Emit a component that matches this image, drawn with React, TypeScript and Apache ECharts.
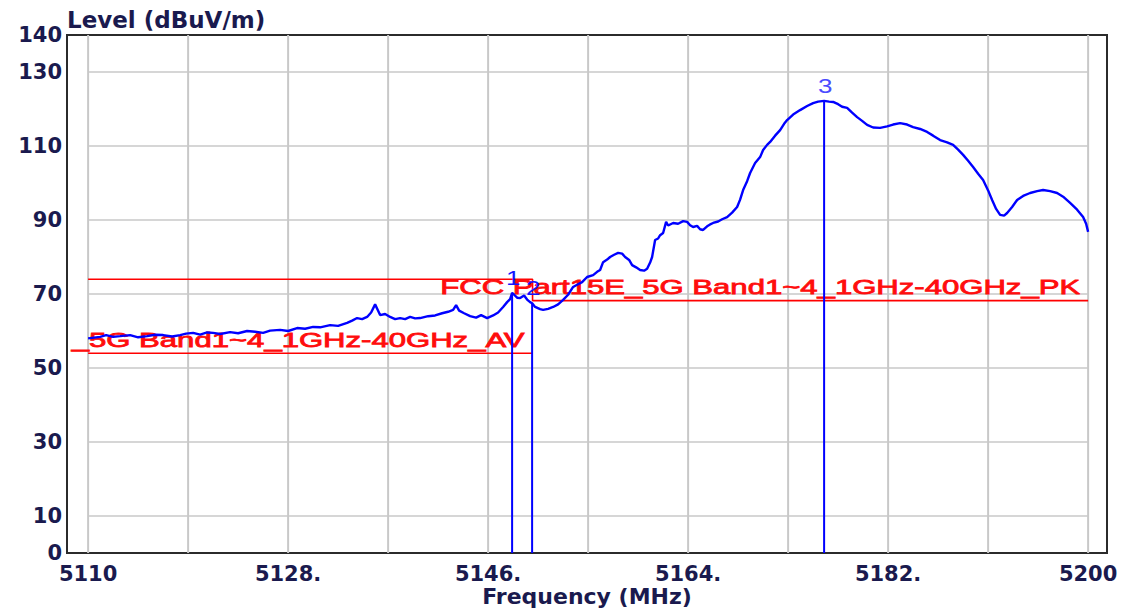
import React, { useEffect, useRef } from "react";
import * as echarts from "echarts";

// ---- Data ----
const xTickValues = [5110, 5128, 5146, 5164, 5182, 5200];
const xTickLabels = ["5110", "5128.", "5146.", "5164.", "5182.", "5200"];
const yTickValues = [0, 10, 30, 50, 70, 90, 110, 130, 140];
const gridFreqs = [5110, 5119, 5128, 5137, 5146, 5155, 5164, 5173, 5182, 5191, 5200];
const gridLevels = [10, 30, 50, 70, 90, 110, 130];

const traceFreq = [
  5110.0, 5111.08, 5111.62, 5112.25, 5112.88, 5113.78, 5114.5, 5115.31, 5116.03, 5116.75,
  5117.56, 5118.28, 5118.82, 5119.45, 5120.08, 5120.71, 5121.25, 5121.88, 5122.78, 5123.5,
  5124.31, 5125.03, 5125.75, 5126.38, 5127.28, 5128.0, 5128.81, 5129.53, 5130.25, 5130.88,
  5131.78, 5132.5, 5133.31, 5133.76, 5134.21, 5134.66, 5135.11, 5135.47, 5135.83, 5136.1,
  5136.28, 5136.73, 5137.18, 5137.63, 5138.08, 5138.53, 5138.98, 5139.43, 5139.88, 5140.6,
  5141.23, 5141.86, 5142.4, 5142.85, 5143.12, 5143.39, 5143.84, 5144.38, 5144.92, 5145.37,
  5145.91, 5146.45, 5146.9, 5147.35, 5147.71, 5147.98, 5148.16, 5148.34, 5148.61, 5148.88,
  5149.24, 5149.51, 5149.78, 5149.96, 5150.23, 5150.68, 5150.95, 5151.4, 5151.85, 5152.3,
  5152.75, 5153.2, 5153.65, 5154.01, 5154.46, 5154.91, 5155.45, 5155.81, 5156.08, 5156.35,
  5156.71, 5156.98, 5157.34, 5157.7, 5158.06, 5158.33, 5158.69, 5158.96, 5159.32, 5159.68,
  5160.04, 5160.31, 5160.58, 5160.76, 5161.03, 5161.3, 5161.48, 5161.75, 5162.02, 5162.2,
  5162.65, 5163.1, 5163.55, 5163.91, 5164.18, 5164.45, 5164.81, 5165.08, 5165.35, 5165.71,
  5165.98, 5166.25, 5166.7, 5167.06, 5167.51, 5167.96, 5168.41, 5168.68, 5168.95, 5169.31,
  5169.58, 5170.03, 5170.48, 5170.75, 5171.11, 5171.38, 5171.83, 5172.28, 5172.64, 5172.91,
  5173.45, 5174.08, 5174.71, 5175.25, 5175.7, 5176.24, 5176.69, 5177.05, 5177.5, 5177.86,
  5178.31, 5178.76, 5179.21, 5179.66, 5180.11, 5180.65, 5181.28, 5181.91, 5182.45, 5183.08,
  5183.71, 5184.25, 5184.88, 5185.51, 5186.05, 5186.68, 5187.31, 5187.85, 5188.3, 5188.75,
  5189.2, 5189.65, 5190.1, 5190.55, 5191.0, 5191.36, 5191.72, 5192.08, 5192.44, 5192.71,
  5193.16, 5193.61, 5194.15, 5194.78, 5195.41, 5195.95, 5196.58, 5197.21, 5197.75, 5198.38,
  5199.01, 5199.55, 5199.82, 5200.0,
];
const traceLevel = [
  58.0, 58.4, 58.9, 58.4, 58.6, 58.9, 58.3, 58.6, 59.0, 58.9,
  58.5, 58.9, 59.3, 59.5, 59.0, 59.6, 59.5, 59.2, 59.7, 59.4,
  60.0, 59.8, 59.5, 60.1, 60.3, 60.0, 60.8, 60.6, 61.1, 61.0,
  61.6, 61.4, 62.2, 62.8, 63.5, 63.2, 63.8, 65.0, 67.2, 65.5,
  64.3, 64.6, 63.8, 63.2, 63.5, 63.2, 63.8, 63.4, 63.5, 64.0,
  64.2, 64.8, 65.2, 65.7, 67.0, 65.5, 64.8, 64.0, 63.6, 64.3,
  63.5, 64.2, 65.0, 66.5, 67.8, 68.6, 70.3, 69.8, 69.0, 68.9,
  69.6, 68.5, 67.8, 67.5, 66.5, 65.9, 65.7, 66.0, 66.5, 67.2,
  68.4, 69.8, 71.9, 72.5, 73.2, 74.6, 75.1, 76.0, 76.5, 78.6,
  79.3, 80.0, 80.6, 81.1, 80.9, 80.0, 79.2, 77.8, 77.2, 76.5,
  76.3, 76.8, 78.5, 80.0, 84.6, 85.0, 85.9, 86.5, 89.5, 88.5,
  89.2, 89.0, 89.7, 89.5, 88.6, 88.1, 88.4, 87.5, 87.3, 88.3,
  88.8, 89.2, 89.6, 90.2, 90.8, 92.0, 93.5, 95.5, 98.1, 100.5,
  102.7, 105.4, 107.0, 108.9, 110.3, 111.1, 112.8, 114.3, 116.0, 117.0,
  118.5, 119.7, 120.8, 121.6, 122.0, 122.2, 122.0, 121.9, 121.3, 120.6,
  120.3, 119.0, 117.8, 116.8, 115.7, 115.0, 114.9, 115.3, 115.8, 116.2,
  115.8, 115.1, 114.6, 113.8, 112.8, 111.6, 111.0, 110.3, 109.0, 107.6,
  106.0, 104.3, 102.5, 100.8, 98.0, 95.4, 93.0, 91.4, 91.2, 91.9,
  93.5, 95.4, 96.5, 97.3, 97.8, 98.1, 97.8, 97.3, 96.3, 94.6,
  92.8, 90.8, 89.0, 86.8,
];

// Limit lines (FCC Part15E)
const pkLimitFreq = [5110, 5150, 5150, 5200];
const pkLimitLevel = [74, 74, 68.2, 68.2];
const avLimitFreq = [5110, 5150];
const avLimitLevel = [54, 54];
// the AV label is shown in the reference only from "_5G ..." onward (its start is hidden by the frame)
const limitLabels = [
  "FCC Part15E_5G Band1~4_1GHz-40GHz_PK",
  "_5G Band1~4_1GHz-40GHz_AV",
];
const limitLabelFreq = [5200, 5150];
const limitLabelLevel = [68.2, 54];

// Markers
const markerFreq = [5148.16, 5149.96, 5176.24];
const markerLevel = [70.3, 67.5, 122.2];
const markerLabels = ["1", "2", "3"];

// ---- Styles ----
const TICK_COLOR = "#1a1a4e";
const GRID_COLOR = "#c8c8c8";
const RED = "#ff0000";
const BLUE = "#0000ff";

export default function App() {
  const ref = useRef<HTMLDivElement>(null);

  useEffect(() => {
    document.body.style.margin = "0";
    const chart = echarts.init(ref.current as HTMLDivElement, null, { renderer: "svg" });

    const gridLines: number[][] = [];
    gridFreqs.forEach((f) => gridLines.push([f, 0, f, 140]));
    gridLevels.forEach((l) => gridLines.push([5110, l, 5200, l]));

    const boldFont = {
      color: TICK_COLOR,
      fontFamily: "'DejaVu Sans', Verdana, sans-serif",
      fontWeight: "bold" as const,
      fontSize: 21,
    };

    const option: any = {
      animation: false,
      backgroundColor: "#ffffff",
      grid: {
        left: 67,
        right: 27,
        top: 35,
        bottom: 59,
        outerBoundsMode: "none",
        containLabel: false,
        show: true,
        borderColor: "#2b2b2b",
        borderWidth: 2,
        backgroundColor: "#ffffff",
      },
      xAxis: {
        type: "value",
        min: 5108.1,
        max: 5201.7,
        axisLine: { show: false },
        axisTick: { show: false },
        splitLine: { show: false },
        axisLabel: {
          ...boldFont,
          customValues: xTickValues,
          margin: 10,
          formatter: (v: number) => {
            const i = xTickValues.findIndex((t) => Math.abs(t - v) < 1e-6);
            return i >= 0 ? xTickLabels[i] : "";
          },
        },
        name: "Frequency (MHz)",
        nameLocation: "middle",
        nameGap: 32,
        nameMoveOverlap: false,
        nameTextStyle: { ...boldFont, fontSize: 22 },
      },
      yAxis: {
        type: "value",
        min: 0,
        max: 140,
        axisLine: { show: false },
        axisTick: { show: false },
        splitLine: { show: false },
        axisLabel: {
          ...boldFont,
          customValues: yTickValues,
          margin: 5,
        },
        name: "Level (dBuV/m)",
        nameLocation: "end",
        nameGap: 4,
        nameMoveOverlap: false,
        nameTextStyle: { ...boldFont, fontSize: 23, align: "left" },
      },
      series: [
        {
          type: "custom",
          z: 1,
          silent: true,
          encode: { x: [0, 2], y: [1, 3] },
          data: gridLines,
          renderItem: (params: any, api: any) => {
            const v = gridLines[params.dataIndex];
            const p1 = api.coord([v[0], v[1]]);
            const p2 = api.coord([v[2], v[3]]);
            const vertical = v[0] === v[2];
            return {
              type: "line",
              shape: { x1: p1[0], y1: p1[1], x2: p2[0], y2: p2[1] },
              style: { stroke: GRID_COLOR, lineWidth: vertical ? 2 : 1.4 },
            };
          },
        },
        {
          type: "line",
          z: 2,
          silent: true,
          symbol: "none",
          lineStyle: { color: RED, width: 1.6 },
          data: pkLimitFreq.map((f, i) => [f, pkLimitLevel[i]]),
        },
        {
          type: "line",
          z: 2,
          silent: true,
          symbol: "none",
          lineStyle: { color: RED, width: 1.6 },
          data: avLimitFreq.map((f, i) => [f, avLimitLevel[i]]),
        },
        {
          type: "custom",
          z: 3,
          silent: true,
          clip: false,
          data: limitLabelFreq.map((f, i) => [f, limitLabelLevel[i]]),
          renderItem: (params: any, api: any) => {
            const i = params.dataIndex;
            const p = api.coord([limitLabelFreq[i], limitLabelLevel[i]]);
            return {
              type: "text",
              x: p[0] - 8,
              y: p[1] - 3,
              scaleX: 1.48,
              style: {
                text: limitLabels[i],
                align: "right",
                verticalAlign: "bottom",
                fill: "#ff0d0d",
                stroke: "#ff0d0d",
                lineWidth: 0.8,
                fontSize: 21,
                fontFamily: "'Liberation Sans', Arial, sans-serif",
              },
            };
          },
        },
        {
          type: "line",
          z: 4,
          silent: true,
          symbol: "none",
          lineStyle: { color: BLUE, width: 2.4 },
          data: traceFreq.map((f, i) => [f, traceLevel[i]]),
        },
        {
          type: "custom",
          z: 5,
          silent: true,
          data: markerFreq.map((f, i) => [f, markerLevel[i]]),
          renderItem: (params: any, api: any) => {
            const i = params.dataIndex;
            const base = api.coord([markerFreq[i], 0]);
            const top = api.coord([markerFreq[i], markerLevel[i]]);
            return {
              type: "group",
              children: [
                {
                  type: "line",
                  shape: { x1: base[0], y1: base[1], x2: top[0], y2: top[1] },
                  style: { stroke: BLUE, lineWidth: 2 },
                },
                {
                  type: "text",
                  x: top[0] + 1,
                  y: top[1] - 5,
                  scaleX: 1.3,
                  style: {
                    text: markerLabels[i],
                    align: "center",
                    verticalAlign: "bottom",
                    fill: i === 2 ? "#4b4bff" : "#1414ff",
                    fontSize: 20,
                    fontFamily: "'Liberation Sans', Arial, sans-serif",
                  },
                },
              ],
            };
          },
        },
      ],
    };

    chart.setOption(option);
    return () => chart.dispose();
  }, []);

  return <div ref={ref} style={{ width: 1134, height: 612 }} />;
}
